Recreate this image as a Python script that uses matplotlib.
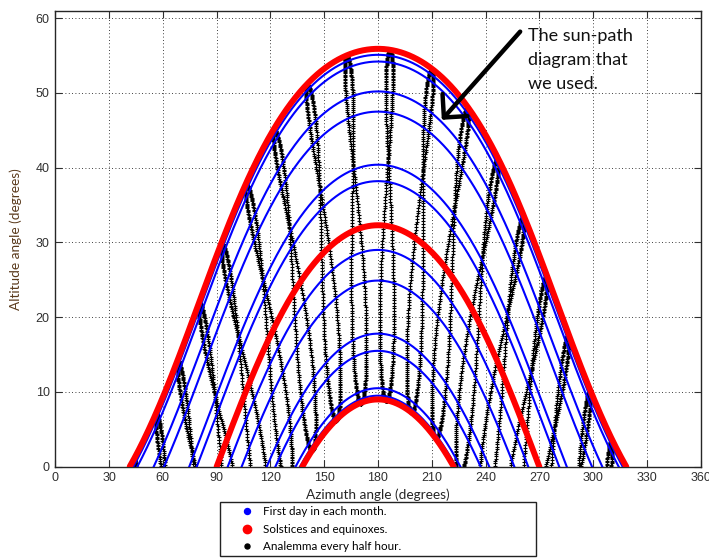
import numpy as np
import matplotlib
matplotlib.use("Agg")
import matplotlib.pyplot as plt
from matplotlib.lines import Line2D

# Site (Gothenburg) and clock settings
LATITUDE = 57.7      # degrees north
LONGITUDE = 12.0     # degrees east
UTC_OFFSET = 1       # hours (CET, no daylight saving)

# Noon altitudes (deg) of the first day of each month, Jan..Dec
month_first_noon_alt = [9.5, 15.5, 24.9, 38.2, 47.5, 54.2,
                        55.1, 50.2, 40.4, 29.0, 17.8, 10.5]
# Noon altitudes (deg): summer solstice, equinoxes, winter solstice
season_noon_alt = [55.9, 32.3, 9.0]
# Clock times (hours) of the analemma curves
analemma_clock_hours = [3.5, 4.5, 5.5, 6.5, 7.5, 8.5, 9.5, 10.5, 11.5,
                        12.5, 13.5, 14.5, 15.5, 16.5, 17.5, 18.5, 19.5, 20.5]

x_ticks = [0, 30, 60, 90, 120, 150, 180, 210, 240, 270, 300, 330, 360]
y_ticks = [0, 10, 20, 30, 40, 50, 60]

legend_labels = ["First day in each month.",
                 "Solstices and equinoxes.",
                 "Analemma every half hour."]


def sun_position(dec, hour_angle):
    """Azimuth (from north) and altitude in degrees."""
    phi = np.radians(LATITUDE)
    d = np.radians(dec)
    h = np.radians(hour_angle)
    sin_alt = np.sin(phi) * np.sin(d) + np.cos(phi) * np.cos(d) * np.cos(h)
    alt = np.degrees(np.arcsin(sin_alt))
    az = np.degrees(np.arctan2(np.sin(h),
                               np.cos(h) * np.sin(phi) - np.tan(d) * np.cos(phi))) + 180.0
    return az, alt


def day_path(noon_alt):
    dec = noon_alt - (90.0 - LATITUDE)
    hour_angle = np.linspace(-180, 180, 4001)
    az, alt = sun_position(dec, hour_angle)
    alt = np.where(alt >= 0, alt, np.nan)
    return az, alt


fig = plt.figure(figsize=(7.09, 5.59), dpi=100)
ax = fig.add_axes([55.3 / 709, (559 - 466.7) / 559, 645.4 / 709, 456 / 559])

# Analemma: one point per day of the year at each clock time
days = np.arange(1, 366)
gamma = 2 * np.pi * (days - 1) / 365.0
dec_year = np.degrees(0.006918 - 0.399912 * np.cos(gamma) + 0.070257 * np.sin(gamma)
                      - 0.006758 * np.cos(2 * gamma) + 0.000907 * np.sin(2 * gamma)
                      - 0.002697 * np.cos(3 * gamma) + 0.00148 * np.sin(3 * gamma))
eot = 229.18 * (0.000075 + 0.001868 * np.cos(gamma) - 0.032077 * np.sin(gamma)
                - 0.014615 * np.cos(2 * gamma) - 0.040849 * np.sin(2 * gamma))
for t in analemma_clock_hours:
    solar_time = t + (4 * LONGITUDE - 60 * UTC_OFFSET + eot) / 60.0
    az, alt = sun_position(dec_year, 15.0 * (solar_time - 12.0))
    keep = alt >= 0
    ax.plot(az[keep], alt[keep], ls="none", marker="+", ms=2.4, mew=0.8,
            color="black", zorder=2)

for noon_alt in month_first_noon_alt:
    az, alt = day_path(noon_alt)
    ax.plot(az, alt, color=(0, 0, 1), lw=1.5, zorder=3)

for noon_alt in season_noon_alt:
    az, alt = day_path(noon_alt)
    ax.plot(az, alt, color=(1, 0, 0), lw=4.3, solid_capstyle="round", zorder=4)

ax.set_xlim(0, 360)
ax.set_ylim(0, 61)
ax.set_xticks(x_ticks)
ax.set_yticks(y_ticks)
ax.grid(True, color="black", ls=(0, (1, 3)), lw=0.6)
ax.set_axisbelow(True)
ax.tick_params(direction="in", length=5, width=0.8, top=True, right=True,
               labelsize=9, colors="#303030", pad=4)
for lab in ax.get_xticklabels() + ax.get_yticklabels():
    lab.set_family("Liberation Sans")
for sp in ax.spines.values():
    sp.set_color("#262626")
    sp.set_linewidth(1.0)

ax.set_xlabel("Azimuth angle (degrees)", family="Lato", fontsize=9.8, color="#262626")
ax.xaxis.set_label_coords(0.5, -0.047)
ax.set_ylabel("Altitude angle (degrees)", family="Lato", fontsize=9.8, color="#5a3a1c")
ax.yaxis.set_label_coords(-0.052, 0.5)

# Callout
ax.annotate("", xy=(215.6, 46.4), xytext=(259.3, 58.2),
            arrowprops=dict(arrowstyle="->,head_length=0.6,head_width=0.6",
                            lw=3.2, color="black", mutation_scale=20,
                            shrinkA=0, shrinkB=0),
            zorder=6)
ax.text(263.4, 58.7, "The sun-path\ndiagram that\nwe used.", family="Lato",
        fontsize=13, va="top", ha="left", linespacing=1.62, color="#111111", zorder=6)

handles = [Line2D([], [], ls="none", marker="o", ms=4.3, color=(0, 0, 1)),
           Line2D([], [], ls="none", marker="o", ms=6.0, color=(1, 0, 0)),
           Line2D([], [], ls="none", marker="o", ms=3.6, color="black")]
leg = fig.legend(handles, legend_labels, loc="upper left",
                 bbox_to_anchor=(220 / 709, 0.0, 316 / 709, 1 - 502 / 559),
                 mode="expand", borderaxespad=0, borderpad=0.34,
                 handlelength=3.9, handletextpad=-0.55, labelspacing=0.58,
                 fancybox=False, framealpha=1, edgecolor="#222222",
                 prop={"family": "Lato", "size": 8.4})
leg.get_frame().set_linewidth(1.0)

fig.savefig("out.png", dpi=100)
